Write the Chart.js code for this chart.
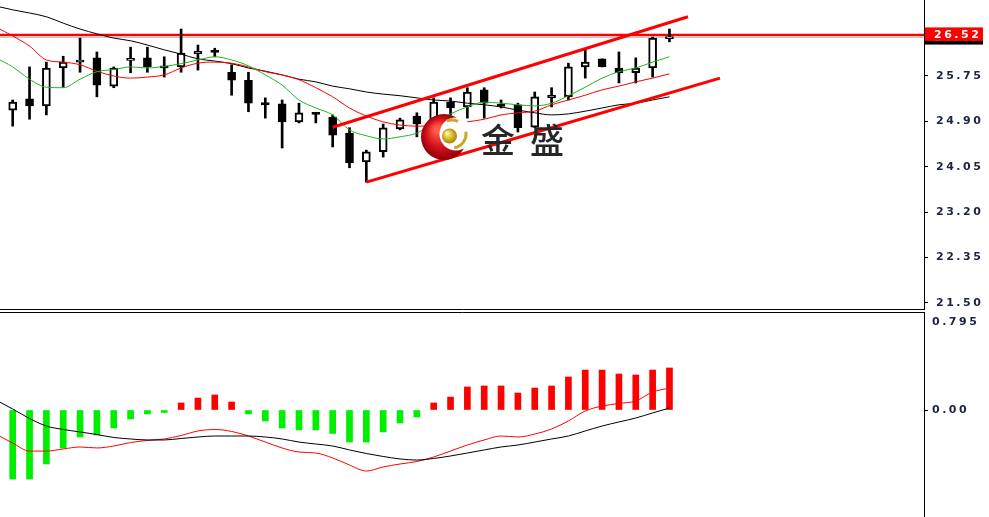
<!DOCTYPE html>
<html>
<head>
<meta charset="utf-8">
<script src="https://cdn.jsdelivr.net/npm/chart.js@4.4.0/dist/chart.umd.min.js"></script>
<style>
  html, body { margin: 0; padding: 0; background: #fff; }
  #wrap { position: relative; width: 989px; height: 517px; overflow: hidden; }
  #price { position: absolute; left: 0; top: 0; }
  #macd { position: absolute; left: 0; top: 311px; }
</style>
</head>
<body>
<div id="wrap">
  <canvas id="price" width="989" height="311"></canvas>
  <canvas id="macd" width="989" height="206"></canvas>
</div>
<script>
// candles, bar index 0..39
const opens  = [25.11,25.32,25.19,25.90,26.01,26.09,25.56,26.04,26.09,25.94,25.92,26.17,26.23,25.82,25.67,25.25,25.23,24.89,25.07,24.98,24.68,24.14,24.33,24.76,25.00,24.90,25.26,25.17,25.49,25.22,25.21,24.79,25.34,25.36,25.92,26.07,25.90,25.81,25.90,26.45];
const highs  = [25.30,25.92,26.01,26.12,26.46,26.20,25.92,26.29,26.29,26.11,26.63,26.33,26.27,25.96,25.82,25.34,25.30,25.24,25.07,25.02,24.78,24.36,24.85,24.96,25.06,25.34,25.34,25.53,25.53,25.30,25.24,25.45,25.53,25.99,26.24,26.07,26.20,26.09,26.48,26.63];
const lows   = [24.81,24.94,25.02,25.54,25.82,25.36,25.53,25.81,25.82,25.73,25.82,25.86,26.11,25.39,25.08,24.96,24.40,24.87,24.87,24.42,24.03,23.76,24.23,24.74,24.61,24.78,25.02,24.96,24.96,25.15,24.70,24.78,25.17,25.30,25.71,25.92,25.62,25.62,25.73,26.39];
const closes = [25.26,25.19,25.90,26.01,26.05,25.58,25.90,26.08,25.92,25.90,26.18,26.21,26.19,25.67,25.24,25.21,24.89,25.06,25.03,24.64,24.12,24.33,24.78,24.93,24.85,25.26,25.15,25.45,25.24,25.18,24.78,25.36,25.39,25.92,26.01,25.92,25.81,25.90,26.46,26.49];

// moving averages, start one bar earlier (index -1..39)
const maFast = [26.09,25.92,25.69,25.54,25.53,25.69,25.83,25.87,25.92,25.90,25.93,25.98,26.05,26.11,26.05,25.94,25.77,25.58,25.30,25.15,25.02,24.74,24.63,24.57,24.61,24.68,24.87,25.04,25.17,25.26,25.24,25.21,25.19,25.24,25.38,25.54,25.71,25.83,25.90,26.01,26.11];
const maMid  = [26.67,26.50,26.31,26.05,26.01,25.96,25.84,25.75,25.71,25.73,25.77,25.90,25.99,26.01,25.99,25.92,25.83,25.77,25.68,25.53,25.36,25.15,25.00,24.89,24.83,24.81,24.81,24.85,24.89,24.94,25.02,25.06,25.09,25.21,25.30,25.39,25.49,25.56,25.64,25.71,25.79];
const maSlow = [27.06,26.99,26.93,26.86,26.74,26.63,26.54,26.46,26.41,26.33,26.24,26.16,26.07,26.03,25.98,25.90,25.84,25.77,25.69,25.64,25.56,25.51,25.45,25.41,25.38,25.34,25.30,25.28,25.24,25.21,25.17,25.11,25.06,25.02,25.04,25.09,25.15,25.21,25.24,25.30,25.36];

// trend channel drawn on the chart: [bar index, price]
const channelUpper = [[19.0, 24.79], [40.1, 26.86]];
const channelLower = [[21.0, 23.76], [42.0, 25.71]];
const resistance = 26.52;
const lastBid = 26.47;

const priceTicks = [21.50, 22.35, 23.20, 24.05, 24.90, 25.75];

// lower window
const macdHist   = [-0.560,-0.560,-0.438,-0.308,-0.219,-0.203,-0.146,-0.073,-0.032,-0.020,0.057,0.097,0.122,0.065,-0.032,-0.089,-0.146,-0.162,-0.162,-0.190,-0.260,-0.260,-0.178,-0.105,-0.057,0.057,0.105,0.187,0.195,0.195,0.138,0.178,0.195,0.268,0.324,0.324,0.292,0.284,0.324,0.341];
const macdMain   = [0.081,0.008,-0.069,-0.130,-0.158,-0.178,-0.199,-0.223,-0.235,-0.243,-0.243,-0.231,-0.219,-0.211,-0.211,-0.211,-0.219,-0.235,-0.260,-0.276,-0.292,-0.324,-0.353,-0.377,-0.397,-0.406,-0.393,-0.373,-0.349,-0.324,-0.300,-0.284,-0.260,-0.235,-0.211,-0.170,-0.130,-0.097,-0.065,-0.024,0.016];
const macdSignal = [-0.195,-0.268,-0.333,-0.333,-0.316,-0.300,-0.308,-0.292,-0.264,-0.247,-0.235,-0.207,-0.170,-0.158,-0.174,-0.211,-0.260,-0.308,-0.341,-0.349,-0.389,-0.446,-0.495,-0.462,-0.438,-0.418,-0.381,-0.333,-0.284,-0.243,-0.211,-0.219,-0.195,-0.154,-0.089,-0.008,0.032,0.053,0.073,0.146,0.178];
const macdTicks = [0];
const macdTop = 0.795;

// visible range
const xMin = -0.754, xMax = 54.115;
const priceMin = 21.383, priceMax = 27.174;
const macdMin = -0.868;

const labelFont = { family: 'DejaVu Sans', size: 11, weight: 'bold' };
const labelColor = '#1b2440';

const fromMinusOne = arr => arr.map((v, k) => ({ x: k - 1, y: v }));
const pairs = arr => arr.map(p => ({ x: p[0], y: p[1] }));

const idx = opens.map((_, i) => i);
const wicks = idx.map(i => ({ x: i, y: [lows[i], highs[i]] }));
const bodies = idx.map(i => ({ x: i, y: [opens[i], closes[i]] }));
const bodyFill = idx.map(i => closes[i] > opens[i] ? '#ffffff' : '#000000');

// MT4 style wide spaced axis text
const spacing = {
    id: 'spacing',
    beforeDraw(chart) {
        chart.ctx.letterSpacing = '2.5px';
    }
};

function drawLogo(ctx) {
    ctx.save();
    ctx.letterSpacing = '0px';
    let g = ctx.createRadialGradient(437, 129, 3, 444, 137, 24);
    g.addColorStop(0, '#ff5a48');
    g.addColorStop(0.55, '#d4101a');
    g.addColorStop(1, '#860006');
    ctx.fillStyle = g;
    ctx.beginPath();
    ctx.arc(444, 137, 23, 0, Math.PI * 2);
    ctx.fill();

    ctx.fillStyle = '#ffffff';
    ctx.beginPath();
    ctx.arc(456, 134, 16.5, 0, Math.PI * 2);
    ctx.fill();

    ctx.strokeStyle = '#c9a824';
    ctx.lineWidth = 3;
    ctx.beginPath();
    ctx.arc(452, 134, 14, -Math.PI * 0.62, -Math.PI * 0.36);
    ctx.stroke();
    ctx.beginPath();
    ctx.arc(452, 134, 14, -Math.PI * 0.05, Math.PI * 0.45);
    ctx.stroke();

    g = ctx.createRadialGradient(447, 133, 1, 449.5, 136, 8);
    g.addColorStop(0, '#fff2a0');
    g.addColorStop(0.5, '#d9b82a');
    g.addColorStop(1, '#9c7e08');
    ctx.fillStyle = g;
    ctx.beginPath();
    ctx.arc(449.5, 136, 7.5, 0, Math.PI * 2);
    ctx.fill();

    ctx.fillStyle = '#262626';
    ctx.font = '500 34px "Noto Sans CJK SC"';
    ctx.textBaseline = 'middle';
    ctx.textAlign = 'left';
    ctx.fillText('金', 481, 140);
    ctx.fillText('盛', 530, 140);
    ctx.restore();
}

const priceOverlay = {
    id: 'priceOverlay',
    afterDatasetsDraw(chart) {
        drawLogo(chart.ctx);
    },
    afterDraw(chart) {
        const { ctx, chartArea, scales } = chart;
        ctx.save();
        ctx.strokeStyle = '#000';
        ctx.lineWidth = 1;
        ctx.beginPath();
        ctx.moveTo(0, chartArea.bottom + 0.5);
        ctx.lineTo(chartArea.right + 1, chartArea.bottom + 0.5);
        ctx.stroke();

        ctx.font = 'bold 11px "DejaVu Sans"';
        ctx.textBaseline = 'middle';
        ctx.textAlign = 'left';
        const left = chartArea.right + 1;
        const by = scales.y.getPixelForValue(lastBid);
        ctx.fillStyle = '#000';
        ctx.fillRect(left, by - 7, 58, 14);
        ctx.fillStyle = '#fff';
        ctx.fillText(lastBid.toFixed(2), left + 9, by + 1);
        const ry = scales.y.getPixelForValue(resistance);
        ctx.fillStyle = '#ff0000';
        ctx.fillRect(left, ry - 7.5, 58, 13.5);
        ctx.fillStyle = '#fff';
        ctx.fillText(resistance.toFixed(2), left + 9, ry);
        ctx.restore();
    }
};

const macdOverlay = {
    id: 'macdOverlay',
    afterDraw(chart) {
        const { ctx, chartArea } = chart;
        ctx.save();
        ctx.strokeStyle = '#000';
        ctx.lineWidth = 1;
        ctx.beginPath();
        ctx.moveTo(0, chartArea.top + 0.5);
        ctx.lineTo(chartArea.right + 1, chartArea.top + 0.5);
        ctx.stroke();
        ctx.font = 'bold 11px "DejaVu Sans"';
        ctx.fillStyle = labelColor;
        ctx.textBaseline = 'middle';
        ctx.textAlign = 'left';
        ctx.fillText(macdTop.toFixed(3), chartArea.right + 8, chartArea.top + 10);
        ctx.restore();
    }
};

function lineSet(data, color, width, order) {
    return {
        type: 'line',
        data: data,
        borderColor: color,
        borderWidth: width,
        pointRadius: 0,
        tension: 0,
        cubicInterpolationMode: 'monotone',
        order: order
    };
}

const xScale = { type: 'linear', min: xMin, max: xMax, display: false, offset: false };

new Chart(document.getElementById('price'), {
    type: 'bar',
    data: {
        datasets: [
            lineSet(pairs(channelUpper), '#ff0000', 3, 0),
            lineSet(pairs(channelLower), '#ff0000', 3, 0),
            lineSet(fromMinusOne(maFast), '#1fb51f', 1, 1),
            lineSet(fromMinusOne(maMid), '#ff0000', 1, 1),
            lineSet(fromMinusOne(maSlow), '#000000', 1, 1),
            {
                data: bodies,
                backgroundColor: bodyFill,
                borderColor: '#000',
                borderWidth: 2,
                borderSkipped: false,
                barThickness: 8,
                grouped: false,
                order: 2
            },
            {
                data: wicks,
                backgroundColor: '#000',
                barThickness: 2,
                grouped: false,
                order: 3
            },
            lineSet([{ x: xMin - 1, y: resistance }, { x: xMax + 1, y: resistance }], '#ff0000', 2.5, 4),
            lineSet([{ x: xMin - 1, y: lastBid }, { x: xMax + 1, y: lastBid }], '#c4c4c4', 1, 5)
        ]
    },
    options: {
        responsive: false,
        animation: false,
        events: [],
        layout: { padding: { bottom: 2 } },
        plugins: { legend: { display: false }, tooltip: { enabled: false } },
        scales: {
            x: xScale,
            y: {
                position: 'right',
                min: priceMin,
                max: priceMax,
                bounds: 'data',
                afterBuildTicks: s => { s.ticks = priceTicks.map(v => ({ value: v })); },
                afterFit: s => { s.width = 65; s.paddingTop = 0; s.paddingBottom = 0; },
                grid: { drawOnChartArea: false, drawTicks: true, tickLength: 4, color: '#000' },
                border: { color: '#000', width: 1 },
                ticks: { color: labelColor, padding: 8, autoSkip: false, font: labelFont, callback: v => v.toFixed(2) }
            }
        }
    },
    plugins: [spacing, priceOverlay]
});

new Chart(document.getElementById('macd'), {
    type: 'bar',
    data: {
        datasets: [
            lineSet(fromMinusOne(macdMain), '#000000', 1, 0),
            lineSet(fromMinusOne(macdSignal), '#ff0000', 1, 0),
            {
                data: macdHist.map((v, i) => ({ x: i, y: v })),
                backgroundColor: macdHist.map(v => v >= 0 ? '#ff0000' : '#00ee00'),
                barThickness: 6,
                grouped: false,
                order: 1
            }
        ]
    },
    options: {
        responsive: false,
        animation: false,
        events: [],
        layout: { padding: { top: 1 } },
        plugins: { legend: { display: false }, tooltip: { enabled: false } },
        scales: {
            x: xScale,
            y: {
                position: 'right',
                min: macdMin,
                max: macdTop,
                bounds: 'data',
                afterBuildTicks: s => { s.ticks = macdTicks.map(v => ({ value: v })); },
                afterFit: s => { s.width = 65; s.paddingTop = 0; s.paddingBottom = 0; },
                grid: { drawOnChartArea: false, drawTicks: true, tickLength: 4, color: '#000' },
                border: { color: '#000', width: 1 },
                ticks: { color: labelColor, padding: 4, autoSkip: false, font: labelFont, callback: v => v.toFixed(2) }
            }
        }
    },
    plugins: [spacing, macdOverlay]
});
</script>
</body>
</html>
